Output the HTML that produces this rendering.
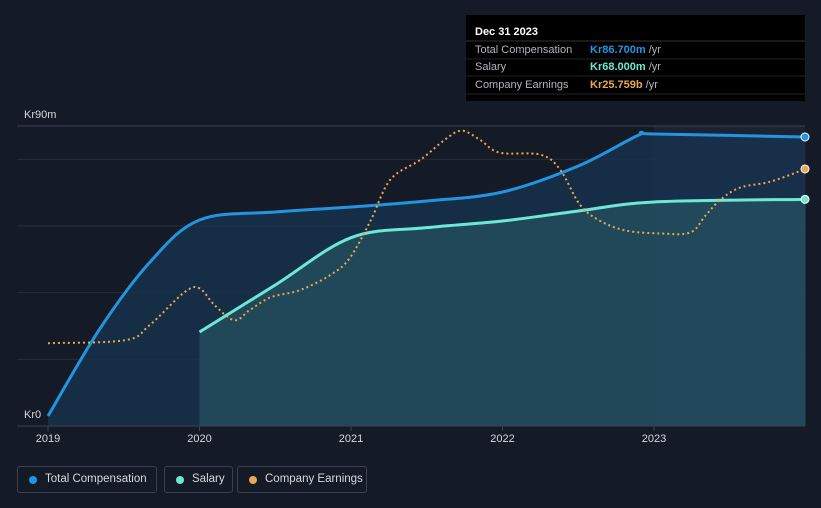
<!DOCTYPE html>
<html><head><meta charset="utf-8"><style>
body{margin:0;background:#151b26;width:821px;height:508px;overflow:hidden;font-family:"Liberation Sans",sans-serif;}
svg text{font-family:"Liberation Sans",sans-serif;}
.leg{position:absolute;top:466px;height:27px;border:1px solid #3a4150;border-radius:3px;color:#d5d8dd;font-size:11.5px;line-height:25px;padding:0 0 0 27px;box-sizing:border-box;white-space:nowrap}
.leg i{position:absolute;left:11px;top:9px;width:8px;height:8px;border-radius:50%}
</style></head><body>
<svg id="c" width="821" height="508" style="position:absolute;left:0;top:0"></svg>
<div class="leg" style="left:17px;width:140px"><i style="background:#2394df"></i>Total Compensation</div>
<div class="leg" style="left:164px;width:69px"><i style="background:#6ee8d6"></i>Salary</div>
<div class="leg" style="left:237px;width:130px"><i style="background:#e8a851"></i>Company Earnings</div>
<script>
const years=[2019,2020,2021,2022,2023];
const tcYears=[2019.0,2019.34,2019.67,2020.0,2020.5,2021.0,2021.5,2022.0,2022.5,2022.9,2023.0,2024.0];
const tcVals=[3,29,49,61.8,64.2,65.7,67.5,70.2,78,87.3,87.6,86.7];
const salYears=[2020.0,2020.5,2021.0,2021.5,2022.0,2022.5,2023.0,2024.0];
const salVals=[28.2,42.3,56.5,59.5,61.5,64.5,67.2,68];
const eYears=[2019.0,2019.51,2019.67,2019.9,2020.0,2020.1,2020.23,2020.33,2020.47,2020.66,2020.86,2020.99,2021.13,2021.26,2021.46,2021.62,2021.73,2021.85,2021.98,2022.25,2022.38,2022.51,2022.64,2022.81,2023.04,2023.24,2023.34,2023.44,2023.57,2023.77,2024.0];
const eVals=[8.3,8.6,10.1,13.4,13.8,12.1,10.6,11.6,12.9,13.6,15.1,16.8,20.6,24.7,26.7,28.7,29.6,28.7,27.4,27.2,25.7,22.2,20.6,19.6,19.3,19.4,21.1,22.7,23.9,24.5,25.76];
const gridVals=[0,20,40,60,80,90];
const X=t=>48+(t-2019)*151.5, Y=v=>426-v*300/90, YE=v=>426-v*9.977;
const svg=document.getElementById('c');const NS='http://www.w3.org/2000/svg';
function el(tag,a,p){const e=document.createElementNS(NS,tag);for(const k in a)e.setAttribute(k,a[k]);(p||svg).appendChild(e);return e;}
function path(xs,ys){let pts=xs.map((x,i)=>[x,ys[i]]);let d='M'+pts[0][0]+','+pts[0][1];
for(let i=0;i<pts.length-1;i++){const p0=pts[Math.max(0,i-1)],p1=pts[i],p2=pts[i+1],p3=pts[Math.min(pts.length-1,i+2)];
d+=` C${p1[0]+(p2[0]-p0[0])/6},${p1[1]+(p2[1]-p0[1])/6} ${p2[0]-(p3[0]-p1[0])/6},${p2[1]-(p3[1]-p1[1])/6} ${p2[0]},${p2[1]}`;}return d;}
let r=el('rect',{x:X(2023),y:126,width:805-X(2023),height:300,fill:'#1b2333'});
gridVals.forEach(v=>{let l=el('line',{x1:17,x2:805,y1:Y(v),y2:Y(v),stroke:v==90?'#3a4150':'#262e3b'});});
const tcx=tcYears.map(X),tcy=tcVals.map(Y);const tcd=path(tcx,tcy);
let a1=el('path',{d:tcd+` L${tcx[tcx.length-1]},426 L${tcx[0]},426 Z`,fill:'#17324f',opacity:0.8});
const sx=salYears.map(X),sy=salVals.map(Y);const sd=path(sx,sy);
let a2=el('path',{d:sd+` L${sx[sx.length-1]},426 L${sx[0]},426 Z`,fill:'#2a5f6a',opacity:0.55});
let l1=el('path',{d:tcd,fill:'none',stroke:'#2394df','stroke-width':3});
let l2=el('path',{d:sd,fill:'none',stroke:'#6ee8d6','stroke-width':3});
let l3=el('path',{d:path(eYears.map(X),eVals.map(YE)),fill:'none',stroke:'#e8a851','stroke-width':2,'stroke-dasharray':'2 3'});
[[tcVals[tcVals.length-1],Y,'#2394df','total-compensation-end-dot'],[salVals[salVals.length-1],Y,'#6ee8d6','salary-end-dot'],[eVals[eVals.length-1],YE,'#e8a851','earnings-end-dot']].forEach(d=>{let c=el('circle',{cx:805,cy:d[1](d[0]),r:4,fill:d[2],stroke:'#fff','stroke-width':1});});
el('line',{x1:17,x2:805,y1:426,y2:426,stroke:'#3a4150'});
years.forEach(y=>{let t=el('text',{x:X(y),y:442,fill:'#d5d8dd','font-size':11,'text-anchor':'middle'});t.textContent=y;
el('line',{x1:X(y),x2:X(y),y1:426,y2:431,stroke:'#3a4150'});});
let t9=el('text',{x:24,y:118,fill:'#d5d8dd','font-size':11});t9.textContent='Kr90m';
let t0=el('text',{x:24,y:418,fill:'#d5d8dd','font-size':11});t0.textContent='Kr0';
const g=el('g',{});
el('rect',{x:466,y:15,width:339,height:86,fill:'#000'},g);
let tt=el('text',{x:475,y:35,fill:'#fff','font-size':11,'font-weight':'bold'},g);tt.textContent='Dec 31 2023';
el('line',{x1:466,x2:805,y1:41,y2:41,stroke:'#333'},g);
[['Total Compensation','Kr86.700m','#2394df',53],['Salary','Kr68.000m','#6ee8d6',70],['Company Earnings','Kr25.759b','#e8a851',88]].forEach(r=>{
let a=el('text',{x:475,y:r[3],fill:'#b0b4bb','font-size':11},g);a.textContent=r[0];
let b=el('text',{x:590,y:r[3],fill:r[2],'font-size':11,'font-weight':'bold'},g);b.textContent=r[1];
let s=el('tspan',{fill:'#b0b4bb','font-weight':'normal'},b);s.textContent=' /yr';
el('line',{x1:466,x2:805,y1:r[3]+6,y2:r[3]+6,stroke:'#222'},g);});
</script>
</body></html>
